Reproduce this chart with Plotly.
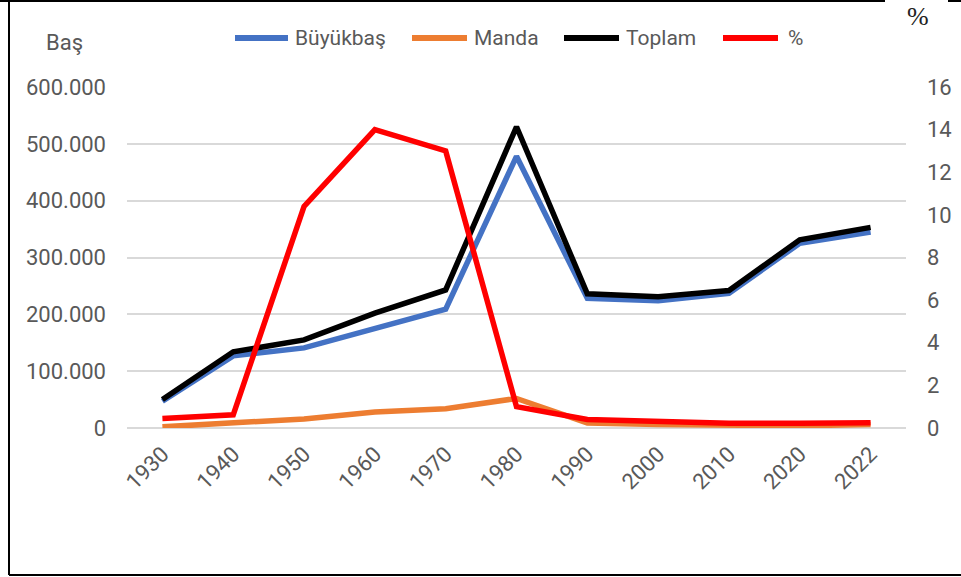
import plotly.graph_objects as go

years = ["1930", "1940", "1950", "1960", "1970", "1980", "1990", "2000", "2010", "2020", "2022"]
buyukbas = [47000, 127000, 141000, 174000, 209000, 478000, 228000, 224000, 237000, 325000, 345000]
manda = [2000, 8000, 16000, 28000, 34000, 52000, 9000, 6000, 4000, 4000, 6000]
toplam = [50000, 134000, 155000, 202000, 243000, 530000, 236000, 231000, 242000, 331000, 353000]
yuzde = [0.45, 0.62, 10.4, 14.0, 13.0, 1.0, 0.4, 0.33, 0.22, 0.22, 0.25]

left_ticks = [0, 100000, 200000, 300000, 400000, 500000, 600000]
right_ticks = [0, 2, 4, 6, 8, 10, 12, 14, 16]

series_names = ["Büyükbaş", "Manda", "Toplam", "%"]
series_colors = ["#4472C4", "#ED7D31", "#000000", "#FF0000"]

FONT = "Roboto, Open Sans, sans-serif"
GRAY = "#595959"
LW = 5.5

fig = go.Figure()
for name, vals, col in zip(series_names[:3], [buyukbas, manda, toplam], series_colors[:3]):
    fig.add_trace(go.Scatter(x=years, y=vals, name=name, mode="lines",
                             line=dict(color=col, width=LW)))
fig.add_trace(go.Scatter(x=years, y=yuzde, name=series_names[3], mode="lines", yaxis="y2",
                         line=dict(color=series_colors[3], width=LW)))

# plot area in pixels: x 127..906, y 87..428
L, R, T, B = 127, 906, 87, 428
W, H = 961, 577
def px(x):
    return (x - L) / (R - L)
def py(y):
    return (B - y) / (B - T)

frame = dict(color="black", width=2)
shapes = [
    dict(type="line", xref="paper", yref="paper", x0=px(9), x1=px(9), y0=py(0), y1=py(575), line=frame),
    dict(type="line", xref="paper", yref="paper", x0=px(9), x1=px(965), y0=py(575), y1=py(575), line=frame),
    dict(type="line", xref="paper", yref="paper", x0=px(0), x1=px(885), y0=py(1), y1=py(1), line=frame),
    dict(type="line", xref="paper", yref="paper", x0=px(948), x1=px(965), y0=py(1), y1=py(1), line=frame),
]

annotations = [
    dict(text="Baş", xref="paper", yref="paper", x=px(64), y=py(43), showarrow=False,
         xanchor="center", yanchor="middle", font=dict(family=FONT, size=22, color=GRAY)),
    dict(text="%", xref="paper", yref="paper", x=px(918), y=py(17), showarrow=False,
         xanchor="center", yanchor="middle",
         font=dict(family="Liberation Serif, Times New Roman, serif", size=26, color="#222222")),
]

# manual legend (line sample + label)
legend_line_x = [(235, 288), (412, 467), (564, 619), (723, 778)]
legend_text_x = [293, 472, 624, 786]
LEG_Y = 38
for (x0, x1), tx, name, col in zip(legend_line_x, legend_text_x, series_names, series_colors):
    shapes.append(dict(type="line", xref="paper", yref="paper", x0=px(x0), x1=px(x1),
                       y0=py(LEG_Y), y1=py(LEG_Y), line=dict(color=col, width=6)))
    annotations.append(dict(text=name, xref="paper", yref="paper", x=px(tx), y=py(LEG_Y),
                            showarrow=False, xanchor="left", yanchor="middle",
                            font=dict(family=FONT, size=21, color=GRAY)))

fig.update_layout(
    width=W, height=H,
    margin=dict(l=L, r=W - R, t=T, b=H - B, autoexpand=False),
    paper_bgcolor="white", plot_bgcolor="white",
    separators=",.",
    font=dict(family=FONT, size=22, color=GRAY),
    showlegend=False,
    xaxis=dict(type="category", categoryorder="array", categoryarray=years,
               range=[-0.5, len(years) - 0.5],
               showgrid=False, showline=False, ticks="", tickangle=-45,
               tickfont=dict(family=FONT, size=22, color=GRAY), ticklabelstandoff=8),
    yaxis=dict(range=[0, 600000], tickvals=left_ticks, tickformat=",d",
               showgrid=True, gridcolor="#D9D9D9", gridwidth=1.5,
               zeroline=True, zerolinecolor="#D9D9D9", zerolinewidth=1.5,
               showline=False, ticks="", ticklabelstandoff=20,
               tickfont=dict(family=FONT, size=22, color=GRAY)),
    yaxis2=dict(range=[0, 16], tickvals=right_ticks, overlaying="y", side="right",
                showgrid=False, zeroline=False, showline=False, ticks="",
                ticklabelstandoff=20,
                tickfont=dict(family=FONT, size=22, color=GRAY)),
    shapes=shapes,
    annotations=annotations,
)

fig.write_html("out.html", config={"displayModeBar": False},
               post_script="document.body.style.margin='0px';")
